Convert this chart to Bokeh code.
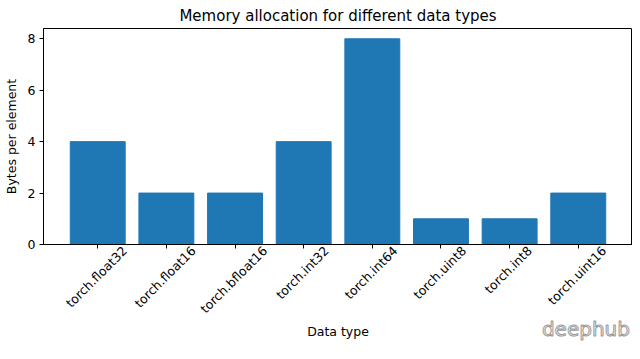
import math
from bokeh.plotting import figure
from bokeh.models import FixedTicker, Range1d, LinearAxis
from bokeh.embed import file_html
from bokeh.resources import INLINE

dtypes = ["torch.float32", "torch.float16", "torch.bfloat16", "torch.int32",
          "torch.int64", "torch.uint8", "torch.int8", "torch.uint16"]
bytes_per_element = [4, 2, 2, 4, 8, 1, 1, 2]
y_ticks = [0, 2, 4, 6, 8]
watermark = "deephub"

FONT = "DejaVu Sans"
FS = 12.5
W, H = 632, 343
xs = list(range(len(dtypes)))
x_lo, x_hi = -0.79, len(dtypes) - 1 + 0.79

p = figure(width=W, height=H, output_backend="svg", toolbar_location=None,
           x_range=Range1d(x_lo, x_hi), y_range=Range1d(0, 8.4),
           title="Memory allocation for different data types",
           min_border_left=35, min_border_right=0, min_border_top=23, min_border_bottom=0)

p.vbar(x=xs, top=bytes_per_element, width=0.8, fill_color="#1f77b4", line_color="#1f77b4")

p.title.text_font = FONT
p.title.text_font_size = "15px"
p.title.text_font_style = "normal"
p.title.align = "center"
p.title.text_color = "black"
p.title.standoff = 8

p.xgrid.visible = False
p.ygrid.visible = False
p.outline_line_color = "black"
p.outline_line_width = 1
p.background_fill_color = "white"
p.border_fill_color = "white"


def style(ax):
    ax.axis_line_color = "black"
    ax.major_tick_line_color = "black"
    ax.major_tick_in = 0
    ax.major_tick_out = 4
    ax.minor_tick_line_color = None
    ax.major_label_text_font = FONT
    ax.major_label_text_font_size = f"{FS}px"
    ax.major_label_text_color = "black"
    ax.axis_label_text_font = FONT
    ax.axis_label_text_font_size = f"{FS}px"
    ax.axis_label_text_font_style = "normal"
    ax.axis_label_text_color = "black"


style(p.xaxis[0])
style(p.yaxis[0])

p.yaxis.ticker = FixedTicker(ticks=y_ticks)
p.yaxis.axis_label = "Bytes per element"
p.yaxis.major_label_standoff = 4
p.yaxis.axis_label_standoff = 6

# tick marks only on the main x axis
p.xaxis.ticker = FixedTicker(ticks=xs)
p.xaxis.major_label_overrides = {i: "" for i in xs}
p.xaxis.major_label_text_font_size = "0px"
p.xaxis.major_label_standoff = 0

# approximate DejaVu Sans advance widths (em) to centre rotated labels like matplotlib
adv = {"t": 0.392, "o": 0.612, "r": 0.411, "c": 0.550, "h": 0.634, ".": 0.318,
       "f": 0.352, "l": 0.278, "a": 0.613, "b": 0.635, "i": 0.278, "n": 0.634,
       "u": 0.634, "d": 0.635, "e": 0.615, "p": 0.635}
px_per_unit = 587 / (x_hi - x_lo)
shift = []
for i, n in enumerate(dtypes):
    w = sum(adv.get(ch, 0.636) for ch in n) * FS
    shift.append(round(i + (w * 0.354 - 1.5) / px_per_unit, 4))

lab_ax = LinearAxis()
style(lab_ax)
lab_ax.axis_line_color = None
lab_ax.major_tick_line_color = None
lab_ax.major_tick_out = 0
lab_ax.ticker = FixedTicker(ticks=shift)
lab_ax.major_label_overrides = {s: n for s, n in zip(shift, dtypes)}
lab_ax.major_label_orientation = math.pi / 4
lab_ax.major_label_standoff = 0
lab_ax.axis_label = "Data type"
lab_ax.axis_label_standoff = 0
p.add_layout(lab_ax, "below")

# watermark: label of an empty axis, pushed to the right edge with no-break spaces
WM_FS = 20
wm_w = sum(adv[ch] for ch in watermark) * WM_FS
n_pad = round((587 - wm_w) / (0.318 * WM_FS))
wm_ax = LinearAxis()
wm_ax.ticker = FixedTicker(ticks=[])
wm_ax.axis_line_color = None
wm_ax.major_tick_line_color = None
wm_ax.minor_tick_line_color = None
wm_ax.major_tick_out = 0
wm_ax.major_label_text_font_size = "0px"
wm_ax.major_label_standoff = 0
wm_ax.axis_label = "\u00a0" * max(n_pad, 0) + watermark
wm_ax.axis_label_standoff = -26
wm_ax.axis_label_text_font = FONT
wm_ax.axis_label_text_font_size = f"{WM_FS}px"
wm_ax.axis_label_text_font_style = "normal"
wm_ax.axis_label_text_color = "#f4f4f4"
wm_ax.axis_label_text_outline_color = "#9a9a9a"
p.add_layout(wm_ax, "below")

open("out.html", "w").write(file_html(p, INLINE))
